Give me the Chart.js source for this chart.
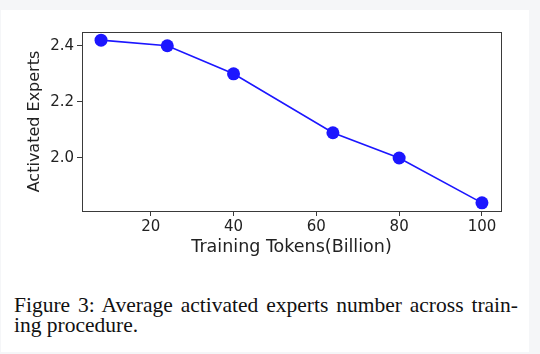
<!DOCTYPE html>
<html>
<head>
<meta charset="utf-8">
<script src="https://cdn.jsdelivr.net/npm/chart.js@4.4.1/dist/chart.umd.min.js"></script>
<style>
  html, body { margin: 0; padding: 0; background: #f5f6f8; }
  body { width: 540px; height: 354px; position: relative; overflow: hidden; }
  #card { position: absolute; left: 1px; top: 10px; width: 528px; height: 342px; background: #fff; }
  #wrap { position: absolute; left: 0; top: 0; width: 540px; height: 270px; }
  .cap { position: absolute; left: 14px; width: 504px; font-family: "Liberation Serif", "Times New Roman", serif;
         font-size: 21.5px; line-height: 20px; color: #111; white-space: nowrap; }
  #cap1 { top: 295px; white-space: normal; text-align: justify; text-align-last: justify; }
  #cap2 { top: 315px; }
</style>
</head>
<body>
<div id="card"></div>
<div id="wrap"><canvas id="chart"></canvas></div>
<div class="cap" id="cap1">Figure 3: Average activated experts number across train-</div>
<div class="cap" id="cap2">ing procedure.</div>
<script>
const tokens = [8, 24, 40, 64, 80, 100];
const experts = [2.42, 2.40, 2.30, 2.09, 2.00, 1.84];
const xTicks = [20, 40, 60, 80, 100];
const yTicks = [2.0, 2.2, 2.4];

// matplotlib style 5% margins
function padRange(vals) {
  const lo = Math.min(...vals), hi = Math.max(...vals), m = (hi - lo) * 0.05;
  return [lo - m, hi + m];
}
const [xMin, xMax] = padRange(tokens);
const [yMin, yMax] = padRange(experts);

const axisColor = '#3a3a3a';
const tickFont = { family: 'DejaVu Sans', size: 15 };

const frame = {
  id: 'frame',
  afterDraw(chart) {
    const a = chart.chartArea, ctx = chart.ctx;
    ctx.save();
    ctx.strokeStyle = axisColor;
    ctx.lineWidth = 1;
    ctx.strokeRect(Math.round(a.left) + 0.5, Math.round(a.top) + 0.5,
      Math.round(a.right - a.left), Math.round(a.bottom - a.top));
    ctx.restore();
  }
};

new Chart(document.getElementById('chart'), {
  type: 'line',
  data: {
    datasets: [{
      data: tokens.map((t, i) => ({ x: t, y: experts[i] })),
      borderColor: '#1c16ff',
      backgroundColor: '#1c16ff',
      borderWidth: 1.6,
      pointRadius: 6.5,
      pointBorderWidth: 0,
      tension: 0,
      clip: false
    }]
  },
  options: {
    responsive: true,
    maintainAspectRatio: false,
    animation: false,
    events: [],
    layout: { padding: { left: 0, top: 32, right: 39, bottom: 0 } },
    plugins: { legend: { display: false }, tooltip: { enabled: false } },
    scales: {
      x: {
        type: 'linear',
        min: xMin,
        max: xMax,
        afterBuildTicks: axis => { axis.ticks = xTicks.map(v => ({ value: v })); },
        afterFit: axis => { axis.height = 59; },
        grid: { drawOnChartArea: false, drawTicks: true, tickLength: 5, color: axisColor },
        border: { display: false },
        ticks: { font: tickFont, color: '#222', padding: 2, maxRotation: 0 },
        title: {
          display: true,
          text: 'Training Tokens(Billion)',
          font: { family: 'DejaVu Sans', size: 17.5 },
          color: '#222',
          padding: { top: 0, bottom: 12.5 }
        }
      },
      y: {
        type: 'linear',
        min: yMin,
        max: yMax,
        afterBuildTicks: axis => { axis.ticks = yTicks.map(v => ({ value: v })); },
        afterFit: axis => { axis.width = 82; },
        grid: { drawOnChartArea: false, drawTicks: true, tickLength: 5, color: axisColor },
        border: { display: false },
        ticks: { font: tickFont, color: '#222', padding: 3, callback: v => v.toFixed(1) },
        title: {
          display: true,
          text: 'Activated Experts',
          font: { family: 'DejaVu Sans', size: 16 },
          color: '#222',
          padding: { top: 25.4, bottom: 0 }
        }
      }
    }
  },
  plugins: [frame]
});
</script>
</body>
</html>
